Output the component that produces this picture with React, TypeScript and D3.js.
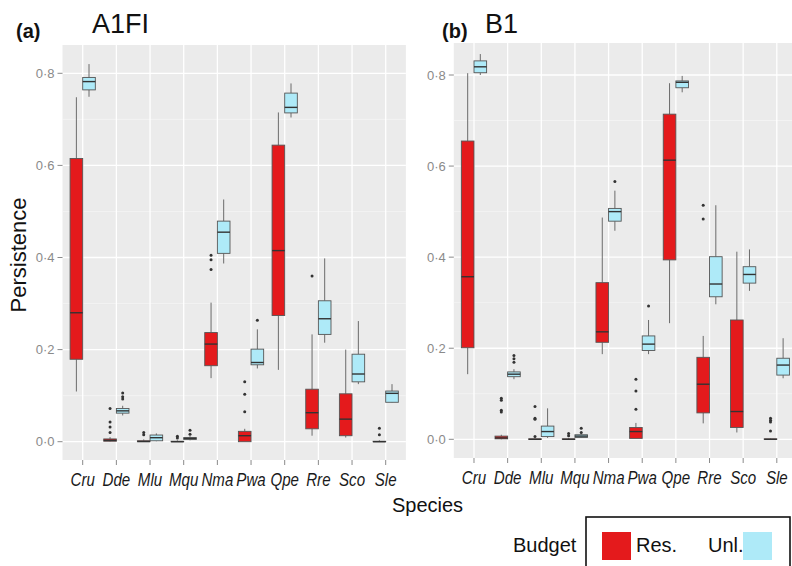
import React from "react";
import * as d3 from "d3";

const species = ["Cru", "Dde", "Mlu", "Mqu", "Nma", "Pwa", "Qpe", "Rre", "Sco", "Sle"];
const yTicks = [0, 0.2, 0.4, 0.6, 0.8];
const yMinor = [0.1, 0.3, 0.5, 0.7];

// each box: [lower whisker, q1, median, q3, upper whisker]
const a1fiRes = [
  [0.109, 0.179, 0.28, 0.615, 0.748],
  [0, 0.001, 0.003, 0.006, 0.01],
  [0, 0, 0.0005, 0.002, 0.005],
  [0, 0, 0, 0.001, 0.003],
  [0.138, 0.165, 0.212, 0.237, 0.302],
  [0, 0, 0.013, 0.0225, 0.028],
  [0.156, 0.274, 0.415, 0.644, 0.715],
  [0.013, 0.028, 0.063, 0.114, 0.233],
  [0.009, 0.013, 0.049, 0.104, 0.2],
  [0, 0, 0, 0.001, 0.003],
];
const a1fiResOut = [
  [], [0.072, 0.043, 0.032, 0.02], [0.02, 0.015], [0.012, 0.008],
  [0.405, 0.395, 0.374], [0.13, 0.103, 0.065], [], [0.36], [], [0.029, 0.015],
];
const a1fiUnl = [
  [0.749, 0.764, 0.782, 0.791, 0.82],
  [0.057, 0.062, 0.067, 0.072, 0.078],
  [0.001, 0.002, 0.0087, 0.0145, 0.018],
  [0.003, 0.005, 0.007, 0.009, 0.012],
  [0.387, 0.409, 0.455, 0.479, 0.526],
  [0.159, 0.167, 0.172, 0.201, 0.244],
  [0.704, 0.714, 0.726, 0.757, 0.778],
  [0.215, 0.233, 0.267, 0.306, 0.398],
  [0.125, 0.13, 0.147, 0.19, 0.262],
  [0.085, 0.0856, 0.105, 0.11, 0.125],
];
const a1fiUnlOut = [
  [], [0.106, 0.0975, 0.0925], [], [0.025, 0.016], [], [0.264], [], [], [], [],
];

const b1Res = [
  [0.143, 0.201, 0.357, 0.655, 0.804],
  [0, 0.001, 0.003, 0.007, 0.01],
  [0, 0, 0, 0.001, 0.002],
  [0, 0, 0, 0.001, 0.003],
  [0.187, 0.213, 0.236, 0.344, 0.487],
  [0.002, 0.002, 0.017, 0.026, 0.036],
  [0.255, 0.394, 0.613, 0.714, 0.782],
  [0.035, 0.058, 0.121, 0.18, 0.227],
  [0.015, 0.026, 0.061, 0.262, 0.412],
  [0, 0, 0, 0.001, 0.002],
];
const b1ResOut = [
  [], [0.09, 0.086, 0.064, 0.06], [0.072, 0.046, 0.044, 0.006], [0.013, 0.008],
  [], [0.132, 0.106, 0.066], [], [0.514, 0.484], [], [0.046, 0.042, 0.038, 0.018],
];
const b1Unl = [
  [0.8, 0.805, 0.818, 0.831, 0.846],
  [0.132, 0.1375, 0.143, 0.148, 0.154],
  [0.003, 0.006, 0.017, 0.029, 0.068],
  [0.003, 0.004, 0.007, 0.01, 0.012],
  [0.458, 0.479, 0.5, 0.507, 0.546],
  [0.187, 0.195, 0.209, 0.227, 0.262],
  [0.762, 0.772, 0.784, 0.787, 0.798],
  [0.2965, 0.313, 0.341, 0.401, 0.514],
  [0.326, 0.343, 0.362, 0.379, 0.417],
  [0.134, 0.141, 0.163, 0.178, 0.222],
];
const b1UnlOut = [
  [], [0.184, 0.177, 0.169], [], [0.024, 0.015], [0.566], [0.293], [], [], [], [],
];

const RED = "#e41a1c";
const BLUE = "#aeeaf8";
const FONT = "'Liberation Sans', Arial, sans-serif";

const fmt = (v: number) => d3.format(".1f")(v).replace(".", "\u00b7");

type PanelProps = {
  left: number;
  right: number;
  top: number;
  bottom: number;
  y0: number; // pixel of 0
  y8: number; // pixel of 0.8
  res: number[][];
  resOut: number[][];
  unl: number[][];
  unlOut: number[][];
};

const Panel = ({ left, right, top, bottom, y0, y8, res, resOut, unl, unlOut }: PanelProps) => {
  const x = d3.scalePoint().domain(species).range([left, right]).padding(0.6);
  const y = d3.scaleLinear().domain([0, 0.8]).range([y0, y8]);
  const step = x.step();
  const bw = step * 0.375;

  const box = (s: number[], out: number[], cx: number, fill: string, key: string) => (
    <g key={key}>
      <line x1={cx} x2={cx} y1={y(s[4])} y2={y(s[3])} stroke="#6b6b6b" strokeWidth={1} />
      <line x1={cx} x2={cx} y1={y(s[1])} y2={y(s[0])} stroke="#6b6b6b" strokeWidth={1} />
      <rect
        x={cx - bw / 2}
        y={y(s[3])}
        width={bw}
        height={Math.max(y(s[1]) - y(s[3]), 0.5)}
        fill={fill}
        stroke="#555"
        strokeWidth={0.9}
      />
      <line x1={cx - bw / 2} x2={cx + bw / 2} y1={y(s[2])} y2={y(s[2])} stroke="#333" strokeWidth={1.4} />
      {out.map((o, i) => (
        <circle key={i} cx={cx} cy={y(o)} r={1.5} fill="#333" />
      ))}
    </g>
  );

  return (
    <g>
      <rect x={left} y={top} width={right - left} height={bottom - top} fill="#ebebeb" />
      {yMinor.map((t) => (
        <line key={"m" + t} x1={left} x2={right} y1={y(t)} y2={y(t)} stroke="#f7f7f7" strokeWidth={0.7} />
      ))}
      {yTicks.map((t) => (
        <line key={"g" + t} x1={left} x2={right} y1={y(t)} y2={y(t)} stroke="#fff" strokeWidth={1.3} />
      ))}
      {species.map((sp) => (
        <line key={"v" + sp} x1={x(sp)} x2={x(sp)} y1={top} y2={bottom} stroke="#fff" strokeWidth={1.3} />
      ))}
      {species.map((sp, i) => (
        <g key={sp}>
          {box(res[i], resOut[i], (x(sp) as number) - bw / 2, RED, "r")}
          {box(unl[i], unlOut[i], (x(sp) as number) + bw / 2, BLUE, "u")}
        </g>
      ))}
      {yTicks.map((t) => (
        <g key={"t" + t}>
          <line x1={left - 5} x2={left} y1={y(t)} y2={y(t)} stroke="#8a8a8a" strokeWidth={1} />
          <text
            x={left - 8}
            y={y(t)}
            dy="0.35em"
            textAnchor="end"
            fontSize={13}
            fill="#8a8a8a"
            fontFamily={FONT}
          >
            {fmt(t)}
          </text>
        </g>
      ))}
      {species.map((sp) => (
        <g key={"x" + sp}>
          <line x1={x(sp)} x2={x(sp)} y1={bottom} y2={bottom + 5} stroke="#8a8a8a" strokeWidth={1} />
          <text
            transform={`translate(${x(sp)},${bottom + 26}) scale(0.84,1)`}
            textAnchor="middle"
            fontSize={18}
            fontStyle="italic"
            fill="#1a1a1a"
            fontFamily={FONT}
          >
            {sp}
          </text>
        </g>
      ))}
    </g>
  );
};

export default function App() {
  return (
    <svg
      width={792}
      height={566}
      style={{ position: "absolute", left: 0, top: 0, background: "#fff" }}
      fontFamily={FONT}
    >
      <Panel
        left={62.5}
        right={405.9}
        top={45}
        bottom={460}
        y0={441.7}
        y8={73.3}
        res={a1fiRes}
        resOut={a1fiResOut}
        unl={a1fiUnl}
        unlOut={a1fiUnlOut}
      />
      <Panel
        left={453.8}
        right={797}
        top={43}
        bottom={458}
        y0={439.3}
        y8={75}
        res={b1Res}
        resOut={b1ResOut}
        unl={b1Unl}
        unlOut={b1UnlOut}
      />
      <text x={16} y={38} fontSize={20} fontWeight="bold" fill="#111">(a)</text>
      <text x={92} y={33} fontSize={27} fill="#111">A1FI</text>
      <text x={442} y={38} fontSize={20} fontWeight="bold" fill="#111">(b)</text>
      <text x={485} y={33} fontSize={27} fill="#111">B1</text>
      <text transform="translate(26,255) rotate(-90)" textAnchor="middle" fontSize={22} fill="#111">
        Persistence
      </text>
      <text x={427.5} y={512} textAnchor="middle" fontSize={20} fill="#111">Species</text>
      <rect x={586} y={517} width={204} height={60} fill="none" stroke="#111" strokeWidth={1.6} />
      <text x={513} y={552} fontSize={20} fill="#111">Budget</text>
      <rect x={602} y={532} width={29} height={28} fill={RED} />
      <text x={636} y={552} fontSize={20} fill="#111">Res.</text>
      <text x={708} y={552} fontSize={20} fill="#111">Unl.</text>
      <rect x={743} y={532} width={29} height={28} fill={BLUE} />
    </svg>
  );
}
